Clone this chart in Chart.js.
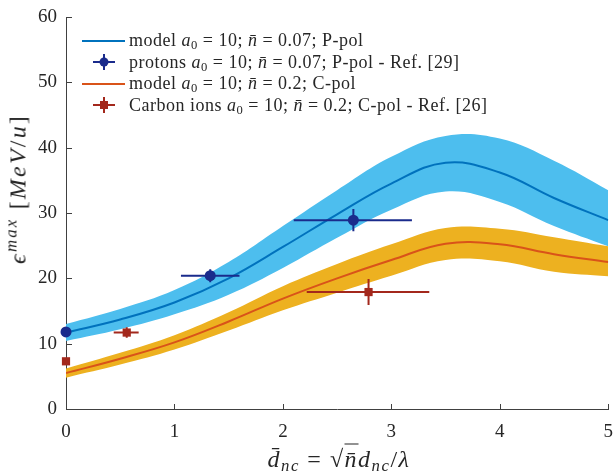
<!DOCTYPE html>
<html>
<head>
<meta charset="utf-8">
<script src="https://cdn.jsdelivr.net/npm/chart.js@4.4.1/dist/chart.umd.min.js"></script>
<style>
  html, body { margin: 0; padding: 0; background: #fff; }
  #wrap { position: relative; width: 614px; height: 473px; font-family: "Liberation Serif", serif; color: #262626; }
  #chart { display: block; }
  .legend { position: absolute; left: 80px; top: 30px; font-size: 18px; letter-spacing: 0.5px; }
  .legend .row { height: 21.5px; display: flex; align-items: center; white-space: nowrap; }
  .legend svg { width: 46px; height: 20px; margin-right: 3px; flex: none; }
  sub { font-size: 70%; vertical-align: -0.25em; line-height: 0; }
  sup { font-size: 70%; vertical-align: 0.55em; line-height: 0; }
  .ytitle { position: absolute; left: 18px; top: 189px; font-size: 24px; letter-spacing: 2.2px; white-space: nowrap;
            transform: translate(-50%, -50%) rotate(-90deg); }
  .xtitle { position: absolute; left: 339px; top: 459px; font-size: 24px; letter-spacing: 1.5px; white-space: nowrap;
            transform: translate(-50%, -50%); }
  .root { border-top: 1px solid #262626; padding-top: 1px; }
</style>
</head>
<body>
<div id="wrap">
  <canvas id="chart" width="614" height="473"></canvas>
  <div class="legend">
    <div class="row">
      <svg viewBox="0 0 46 20"><line x1="2" y1="10" x2="45" y2="10" stroke="#0072BD" stroke-width="2"/></svg>
      <span>model <i>a</i><sub>0</sub> = 10; <i>n̄</i> = 0.07; P-pol</span>
    </div>
    <div class="row">
      <svg viewBox="0 0 46 20"><line x1="13" y1="10" x2="35" y2="10" stroke="#1a2b8c" stroke-width="2"/><line x1="24" y1="2" x2="24" y2="18" stroke="#1a2b8c" stroke-width="2"/><circle cx="24" cy="10" r="4.5" fill="#1a2b8c"/></svg>
      <span>protons <i>a</i><sub>0</sub> = 10; <i>n̄</i> = 0.07; P-pol - Ref. [29]</span>
    </div>
    <div class="row">
      <svg viewBox="0 0 46 20"><line x1="2" y1="10" x2="45" y2="10" stroke="#D95319" stroke-width="2"/></svg>
      <span>model <i>a</i><sub>0</sub> = 10; <i>n̄</i> = 0.2; C-pol</span>
    </div>
    <div class="row">
      <svg viewBox="0 0 46 20"><line x1="13" y1="10" x2="35" y2="10" stroke="#a3281c" stroke-width="2"/><line x1="24" y1="2" x2="24" y2="18" stroke="#a3281c" stroke-width="2"/><rect x="20" y="6" width="8" height="8" fill="#a3281c"/></svg>
      <span>Carbon ions <i>a</i><sub>0</sub> = 10; <i>n̄</i> = 0.2; C-pol - Ref. [26]</span>
    </div>
  </div>
  <div class="ytitle"><i>ϵ</i><sup><i>max</i></sup> [<i>MeV</i>/<i>u</i>]</div>
  <div class="xtitle"><i>d̄</i><sub><i>nc</i></sub> = √<span class="root"><i>n̄</i></span><i>d</i><sub><i>nc</i></sub>/<i>λ</i></div>
</div>
<script>
  // model curves, read every 0.5 along d_nc
  const modelX = [0, 0.5, 1, 1.5, 2, 2.5, 3, 3.5, 4, 4.5, 5];
  const protonModel = [11.7, 13.7, 16.3, 20.0, 24.8, 29.8, 34.5, 37.7, 36.2, 32.3, 28.9];
  const protonUpper = [13.0, 15.3, 18.2, 22.5, 28.0, 33.5, 38.6, 41.8, 41.4, 38.0, 33.5];
  const protonLower = [10.4, 12.2, 14.5, 17.5, 21.6, 26.2, 30.5, 33.3, 31.7, 28.0, 24.9];
  const carbonModel = [5.5, 7.7, 10.2, 13.4, 16.9, 20.0, 22.8, 25.3, 25.2, 23.7, 22.5];
  const carbonUpper = [6.2, 8.6, 11.3, 14.8, 18.8, 22.2, 25.2, 27.7, 27.6, 26.3, 24.9];
  const carbonLower = [4.8, 6.8, 9.1, 12.0, 15.1, 17.8, 20.4, 22.8, 22.6, 21.0, 20.3];

  // measured points (Ref. [29] protons, Ref. [26] carbon)
  const protonX = [0, 1.33, 2.65];
  const protonY = [11.8, 20.4, 28.9];
  const protonXLo = [null, 1.06, 2.10];
  const protonXHi = [null, 1.60, 3.19];
  const protonYErr = [0, 1.0, 1.7];

  const carbonX = [0, 0.56, 2.79];
  const carbonY = [7.3, 11.7, 17.9];
  const carbonXLo = [null, 0.44, 2.22];
  const carbonXHi = [null, 0.67, 3.35];
  const carbonYErr = [0, 0.8, 2.0];

  const xTicks = [0, 1, 2, 3, 4, 5];
  const yTicks = [0, 10, 20, 30, 40, 50, 60];

  const axisColor = "#404040";
  const fontFamily = "'Liberation Serif', serif";

  const toXY = (xs, ys) => xs.map((x, i) => ({ x, y: ys[i] }));

  function band(upper, lower, color) {
    return [
      {
        data: toXY(modelX, upper),
        borderWidth: 0,
        pointRadius: 0,
        backgroundColor: color,
        tension: 0.4,
        fill: "+1",
        order: 3,
      },
      {
        data: toXY(modelX, lower),
        borderWidth: 0,
        pointRadius: 0,
        tension: 0.4,
        fill: false,
        order: 3,
      },
    ];
  }

  function modelLine(values, color) {
    return {
      data: toXY(modelX, values),
      borderColor: color,
      borderWidth: 2,
      pointRadius: 0,
      tension: 0.4,
      fill: false,
      order: 2,
    };
  }

  function markers(xs, ys, lo, hi, yerr, color, style, radius) {
    return {
      data: toXY(xs, ys),
      showLine: false,
      pointStyle: style,
      pointRadius: radius,
      pointBackgroundColor: color,
      pointBorderColor: color,
      pointBorderWidth: 0,
      clip: false,
      order: 1,
      errorBars: { lo, hi, yerr, color },
    };
  }

  const errorBarPlugin = {
    id: "errorBars",
    beforeDatasetDraw(chart, args) {
      const ds = chart.data.datasets[args.index];
      if (!ds.errorBars) return;
      const { ctx } = chart;
      const { x, y } = chart.scales;
      const eb = ds.errorBars;
      ctx.save();
      ctx.strokeStyle = eb.color;
      ctx.lineWidth = 2;
      ds.data.forEach((p, i) => {
        if (eb.lo[i] == null) return;
        const px = x.getPixelForValue(p.x);
        const py = y.getPixelForValue(p.y);
        ctx.beginPath();
        ctx.moveTo(x.getPixelForValue(eb.lo[i]), py);
        ctx.lineTo(x.getPixelForValue(eb.hi[i]), py);
        ctx.moveTo(px, y.getPixelForValue(p.y - eb.yerr[i]));
        ctx.lineTo(px, y.getPixelForValue(p.y + eb.yerr[i]));
        ctx.stroke();
      });
      ctx.restore();
    },
  };

  // MATLAB style ticks pointing into the plot
  const innerTicks = {
    id: "innerTicks",
    afterDatasetsDraw(chart) {
      const { ctx } = chart;
      const { x, y } = chart.scales;
      ctx.save();
      ctx.strokeStyle = axisColor;
      ctx.lineWidth = 1;
      ctx.beginPath();
      xTicks.forEach((v) => {
        const px = Math.round(x.getPixelForValue(v)) + 0.5;
        ctx.moveTo(px, y.bottom);
        ctx.lineTo(px, y.bottom - 5);
      });
      yTicks.forEach((v) => {
        const py = Math.round(y.getPixelForValue(v)) + 0.5;
        ctx.moveTo(x.left, py);
        ctx.lineTo(x.left + 6, py);
      });
      ctx.stroke();
      ctx.restore();
    },
  };

  new Chart(document.getElementById("chart"), {
    type: "line",
    data: {
      datasets: [
        markers(protonX, protonY, protonXLo, protonXHi, protonYErr, "#1a2b8c", "circle", 5.5),
        markers(carbonX, carbonY, carbonXLo, carbonXHi, carbonYErr, "#a3281c", "rect", 5.8),
        modelLine(protonModel, "#0072BD"),
        modelLine(carbonModel, "#D95319"),
        ...band(protonUpper, protonLower, "#4DBEEE"),
        ...band(carbonUpper, carbonLower, "#EDB120"),
      ],
    },
    options: {
      responsive: false,
      animation: false,
      layout: { padding: { top: 17, right: 4, left: 0, bottom: 0 } },
      plugins: {
        legend: { display: false },
        tooltip: { enabled: false },
      },
      scales: {
        x: {
          type: "linear",
          min: 0,
          max: 5,
          afterBuildTicks: (s) => { s.ticks = xTicks.map((v) => ({ value: v })); },
          afterFit: (s) => { s.height = 64; s.paddingLeft = 0; s.paddingRight = 0; },
          grid: { display: false, drawTicks: false },
          border: { display: true, color: axisColor, width: 1 },
          ticks: { color: "#262626", padding: 12, maxRotation: 0, font: { family: fontFamily, size: 19 } },
        },
        y: {
          type: "linear",
          min: 0,
          max: 60,
          afterBuildTicks: (s) => { s.ticks = yTicks.map((v) => ({ value: v })); },
          afterFit: (s) => { s.width = 66; s.paddingTop = 0; s.paddingBottom = 0; },
          grid: { display: false, drawTicks: false },
          border: { display: true, color: axisColor, width: 1 },
          ticks: { color: "#262626", padding: 9, font: { family: fontFamily, size: 19 } },
        },
      },
    },
    plugins: [errorBarPlugin, innerTicks],
  });
</script>
</body>
</html>
